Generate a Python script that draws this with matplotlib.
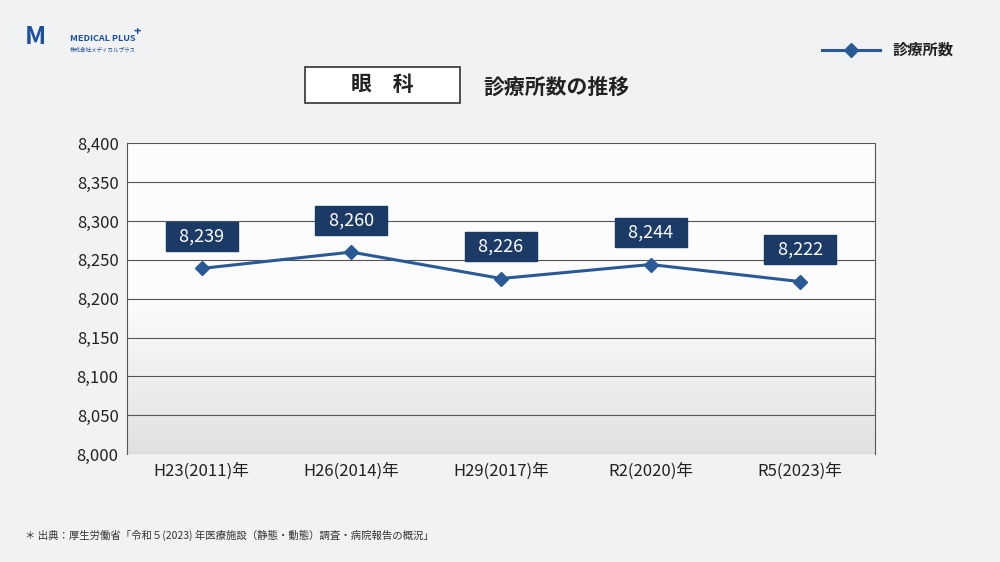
import matplotlib
matplotlib.use("Agg")
import matplotlib.pyplot as plt
import numpy as np
from matplotlib.patches import Rectangle

plt.rcParams['font.family'] = ['Noto Sans CJK JP']

categories = ["H23(2011)年", "H26(2014)年", "H29(2017)年", "R2(2020)年", "R5(2023)年"]
values = [8239, 8260, 8226, 8244, 8222]
yticks = [8000, 8050, 8100, 8150, 8200, 8250, 8300, 8350, 8400]

fig = plt.figure(figsize=(10, 5.62), dpi=100)
fig.patch.set_facecolor("#f1f2f4")

ax = fig.add_axes([0.127, 0.192, 0.748, 0.553])
ax.set_xlim(-0.5, 4.5)
ax.set_ylim(8000, 8400)
grad = np.ones((256, 1))
grad[:128, 0] = np.linspace(0.89, 1.0, 128)
ax.imshow(np.dstack([grad * 0.99, grad * 0.99, grad * 0.99]), extent=[-0.5, 4.5, 8000, 8400],
          aspect='auto', origin='lower', zorder=0)
ax.set_facecolor("white")
for y in yticks:
    ax.axhline(y, color="#555555", lw=0.8, zorder=1)
for s in ["top", "bottom"]:
    ax.spines[s].set_visible(False)
for s in ["left", "right"]:
    ax.spines[s].set_color("#555555")
    ax.spines[s].set_linewidth(0.8)

x = np.arange(len(values))
ax.plot(x, values, color="#2a5a95", lw=2.2, marker="D", markersize=7, zorder=3)
for xi, v in zip(x, values):
    ax.annotate(f"{v:,}", (xi, v), xytext=(0, 23), textcoords="offset points",
                ha="center", va="center", color="white", fontsize=13,
                bbox=dict(boxstyle="square,pad=0.3", fc="#1b3a66", ec="#1b3a66"),
                zorder=4).get_bbox_patch().set_boxstyle("square,pad=0.3")
    # widen via padded text
for t in ax.texts:
    t.set_text("  " + t.get_text() + "  ")

ax.set_yticks(yticks)
ax.set_yticklabels([f"{t:,}" for t in yticks], fontsize=12, color="#222222")
ax.set_xticks(x)
ax.set_xticklabels(categories, fontsize=12, color="#222222")
ax.tick_params(length=0, pad=6)

fig.patches.append(Rectangle((0.305, 1 - 0.183), 0.155, 0.064, transform=fig.transFigure,
                             fc="white", ec="#333333", lw=1.2))
fig.text(0.3825, 1 - 0.151, "眼　科", ha="center", va="center", fontsize=15, fontweight="bold", color="#222222")
fig.text(0.483, 1 - 0.155, "診療所数の推移", ha="left", va="center", fontsize=15, fontweight="bold", color="#222222")

fig.add_artist(plt.Line2D([0.822, 0.851, 0.880], [1 - 0.089] * 3, color="#2a5a95", lw=2.2,
                          marker="D", markersize=7, markevery=[1], transform=fig.transFigure))
fig.text(0.893, 1 - 0.089, "診療所数", ha="left", va="center", fontsize=11, fontweight="bold", color="#222222")

fig.text(0.025, 1 - 0.065, "M", ha="left", va="center", fontsize=18, fontweight="bold", style="italic", color="#1d4fa0")
fig.text(0.070, 1 - 0.068, "MEDICAL PLUS", ha="left", va="center", fontsize=6.5, fontweight="bold", color="#1d4fa0")
fig.text(0.134, 1 - 0.056, "+", ha="left", va="center", fontsize=9, fontweight="bold", color="#1d4fa0")
fig.text(0.070, 1 - 0.088, "株式会社メディカルプラス", ha="left", va="center", fontsize=4, color="#1d4fa0")

fig.text(0.025, 1 - 0.952, "＊ 出典：厚生労働省「令和５(2023) 年医療施設（静態・動態）調査・病院報告の概況」",
         ha="left", va="center", fontsize=7.5, color="#333333")

fig.savefig("out.png", dpi=100)
